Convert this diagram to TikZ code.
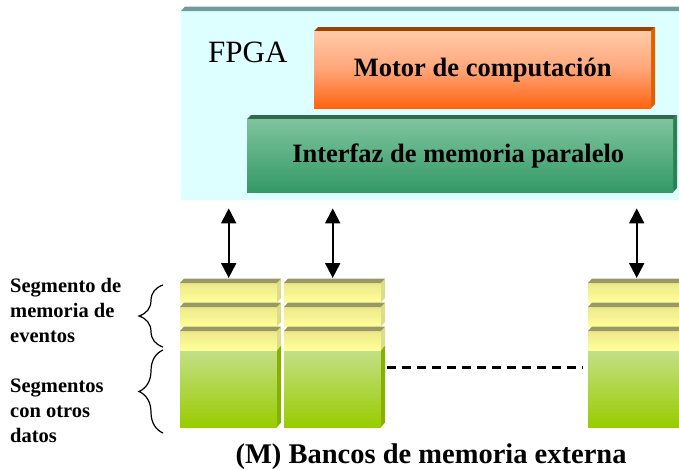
\documentclass[tikz,border=0pt]{standalone}
\usepackage{fontspec}
\setmainfont{Liberation Serif}
\usetikzlibrary{arrows.meta,decorations.pathreplacing}
\definecolor{fpgaFill}{HTML}{DDFFFF}
\definecolor{fpgaTop}{HTML}{739B9B}
\definecolor{motT}{HTML}{FFCCA8}
\definecolor{motM}{HTML}{FFA478}
\definecolor{motB}{HTML}{FF6410}
\definecolor{motTop}{HTML}{A04000}
\definecolor{motSide}{HTML}{E06000}
\definecolor{intT}{HTML}{7FC49E}
\definecolor{intB}{HTML}{339966}
\definecolor{intTop}{HTML}{2E6B4C}
\definecolor{intSide}{HTML}{2D8055}
\definecolor{yelT}{HTML}{EDE98A}
\definecolor{yelB}{HTML}{FFFF99}
\definecolor{yelSide}{HTML}{DDDD88}
\definecolor{bankTop}{HTML}{999966}
\definecolor{grnT}{HTML}{C4DF88}
\definecolor{grnB}{HTML}{99CC00}
\definecolor{grnSide}{HTML}{88B000}
\newcommand{\drawmembank}[1]{%
  \begin{scope}[shift={(#1,0)}]
    \shade[top color=grnT, bottom color=grnB] (0,350) rectangle (97,427);
    \fill[grnSide] (97,350) -- (101,345.5) -- (101,422.5) -- (97,427) -- cycle;
    \foreach \t/\b in {283/302.5, 307/326.5, 331/350}{
      \shade[top color=yelT, bottom color=yelB] (0,\t) rectangle (97,\b);
      \fill[yelSide] (97,\t) -- (101,\t-4.5) -- (101,\b-4.5) -- (97,\b) -- cycle;
      \fill[bankTop] (0,\t) -- (4,\t-4.5) -- (101,\t-4.5) -- (97,\t) -- cycle;
    }
  \end{scope}}
\tikzset{
  bankbox/.style={inner sep=0pt, minimum width=97pt, minimum height=149pt, anchor=north west},
  dblarrow/.style={{Triangle[length=15pt,width=15pt]}-{Triangle[length=15pt,width=15pt]}, line width=2pt},
  dashline/.style={line width=2.7pt, dash pattern=on 9pt off 6pt},
  sidelabel/.style={font=\fontsize{20.5}{25}\selectfont\bfseries, align=left, inner sep=0pt, anchor=north west},
  bracestyle/.style={decorate, decoration={brace, amplitude=24pt}, line width=1.2pt}
}
\begin{document}
\begin{tikzpicture}[x=1pt,y=-1pt]
\useasboundingbox (0,0) rectangle (679,469);
\clip (0,0) rectangle (679,469);
% FPGA
\node[fill=fpgaFill, inner sep=0pt, minimum width=499pt, minimum height=189pt, anchor=north west] (fpga) at (181,11) {};
\fill[fpgaTop] (181,11) -- (185,6.5) -- (679,6.5) -- (679,11) -- cycle;
\node[font=\fontsize{31}{34}\selectfont, inner sep=0pt, anchor=base west] (fpgatext) at (208,62) {FPGA};
% Motor
\fill[motTop] (314,31) -- (318,27) -- (655,27) -- (651,31) -- cycle;
\fill[motSide] (651,31) -- (655,27) -- (655,104) -- (651,108) -- cycle;
\shade[top color=motT, bottom color=motB, middle color=motM] (314,31) rectangle (651,108);
\node[inner sep=0pt, minimum width=337pt, minimum height=77pt, anchor=north west, font=\fontsize{26.5}{30}\selectfont\bfseries] (motor) at (314,31) {Motor de computación};
% Interfaz
\fill[intTop] (247,119) -- (251,115) -- (677,115) -- (673,119) -- cycle;
\fill[intSide] (673,119) -- (677,115) -- (677,188) -- (673,192) -- cycle;
\shade[top color=intT, bottom color=intB] (247,119) rectangle (673,192);
\node[inner sep=0pt, minimum width=426pt, minimum height=73pt, anchor=north west, font=\fontsize{26.5}{30}\selectfont\bfseries] (interfaz) at (245,119) {Interfaz de memoria paralelo};
% banks
\drawmembank{180}
\drawmembank{284}
\drawmembank{588}
\node[bankbox] (bank1) at (180,278) {};
\node[bankbox] (bank2) at (284,278) {};
\node[bankbox] (bank3) at (588,278) {};
% arrows
\draw[dblarrow, shorten <=8pt] (fpga.south -| bank1.north) -- (bank1.north);
\draw[dblarrow, shorten <=8pt] (fpga.south -| bank2.north) -- (bank2.north);
\draw[dblarrow, shorten <=8pt] (fpga.south -| bank3.north) -- (bank3.north);
% dashed
\draw[dashline] ([xshift=6pt,yshift=-14.5pt]bank2.east) -- ([xshift=-5pt,yshift=-14.5pt]bank3.west);
% labels
\node[sidelabel] (lab1) at (10,278.5) {Segmento de\\memoria de\\eventos};
\node[sidelabel] (lab2) at (10,378.5) {Segmentos\\con otros\\datos};
\coordinate (br1t) at (163,285);
\coordinate (br1b) at (163,347);
\coordinate (br2t) at (163,350);
\coordinate (br2b) at (163,433);
\draw[bracestyle] (br1b) -- (br1t);
\draw[bracestyle] (br2b) -- (br2t);
\node[font=\fontsize{28.5}{32}\selectfont\bfseries, inner sep=0pt, anchor=base] (caption) at (431,463) {(M) Bancos de memoria externa};
\end{tikzpicture}
\end{document}
